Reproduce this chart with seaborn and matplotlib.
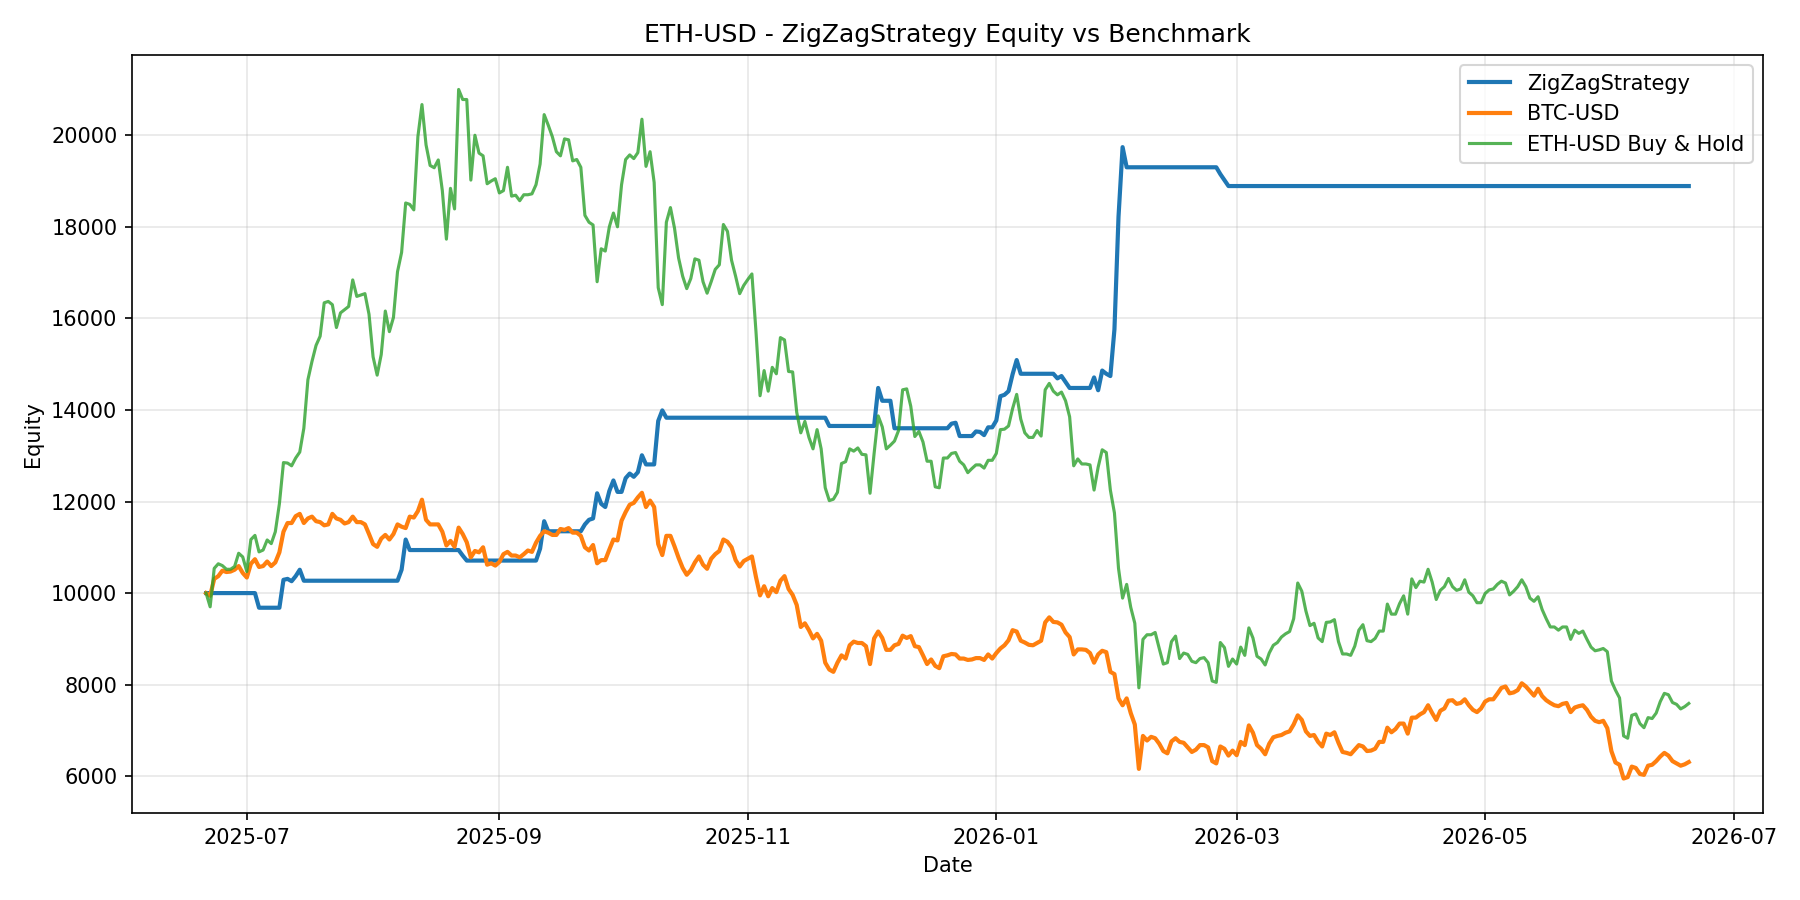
import numpy as np
import pandas as pd
import matplotlib
matplotlib.use("Agg")
import matplotlib.pyplot as plt
import seaborn as sns

start_date = "2025-06-21"
n_days = 365

eth_values = [
    10000, 9700, 10540, 10640, 10600, 10520, 10520, 10580, 10870, 10790,
    10470, 11170, 11260, 10900, 10940, 11160, 11080, 11340, 11950, 12850,
    12840, 12780, 12950, 13080, 13600, 14660, 15060, 15410, 15610, 16340,
    16370, 16300, 15800, 16120, 16190, 16260, 16840, 16480, 16510, 16540,
    16090, 15160, 14760, 15210, 16160, 15710, 16020, 17020, 17440, 18520,
    18490, 18370, 19970, 20670, 19790, 19340, 19290, 19460, 18790, 17730,
    18840, 18390, 21000, 20780, 20780, 19020, 20000, 19610, 19550, 18940,
    19000, 19050, 18740, 18790, 19300, 18670, 18690, 18570, 18700, 18700,
    18720, 18920, 19370, 20450, 20220, 19970, 19640, 19550, 19920, 19900,
    19440, 19470, 19300, 18250, 18100, 18040, 16800, 17520, 17470, 18000,
    18300, 18000, 18920, 19470, 19570, 19490, 19620, 20350, 19320, 19640,
    18970, 16670, 16300, 18100, 18420, 17970, 17320, 16920, 16650, 16870,
    17300, 17270, 16800, 16550, 16800, 17070, 17170, 18050, 17900, 17270,
    16920, 16540, 16720, 16850, 16970, 15710, 14310, 14860, 14410, 14930,
    14790, 15580, 15530, 14840, 14830, 13950, 13500, 13750, 13400, 13150,
    13570, 13150, 12300, 12020, 12050, 12200, 12830, 12870, 13150, 13100,
    13170, 13030, 13020, 12180, 13050, 13870, 13630, 13150, 13230, 13320,
    13550, 14440, 14460, 14080, 13420, 13530, 13300, 12880, 12880, 12320,
    12300, 12950, 12950, 13050, 13070, 12880, 12800, 12630, 12720, 12800,
    12800, 12730, 12900, 12900, 13050, 13570, 13580, 13650, 14030, 14340,
    13800, 13500, 13400, 13400, 13550, 13430, 14440, 14580, 14410, 14330,
    14390, 14200, 13850, 12780, 12930, 12820, 12820, 12800, 12250, 12750,
    13130, 13070, 12250, 11750, 10540, 9890, 10190, 9690, 9340, 7930,
    8990, 9090, 9090, 9140, 8790, 8450, 8480, 8940, 9060, 8570,
    8690, 8660, 8510, 8480, 8570, 8590, 8480, 8080, 8050, 8920,
    8810, 8400, 8560, 8450, 8820, 8640, 9240, 9020, 8620, 8560,
    8430, 8690, 8860, 8920, 9040, 9110, 9160, 9440, 10220, 10040,
    9610, 9290, 9340, 9020, 8940, 9360, 9370, 9420, 8940, 8670,
    8670, 8640, 8840, 9190, 9310, 8960, 8940, 9010, 9170, 9170,
    9760, 9540, 9540, 9770, 9940, 9540, 10310, 10120, 10260, 10240,
    10520, 10240, 9860, 10060, 10140, 10320, 10140, 10060, 10090, 10290,
    10020, 9940, 9790, 9790, 9990, 10070, 10090, 10190, 10260, 10220,
    9960, 10040, 10140, 10290, 10140, 9890, 9820, 9920, 9640, 9440,
    9260, 9260, 9190, 9260, 9260, 8990, 9190, 9120, 9170, 8990,
    8820, 8740, 8760, 8790, 8720, 8080, 7880, 7710, 6880, 6830,
    7330, 7360, 7150, 7060, 7280, 7260, 7380, 7630, 7810, 7780,
    7610, 7570, 7470, 7520, 7590,
]

btc_values = [
    10000, 9940, 10310, 10370, 10490, 10460, 10470, 10510, 10590, 10440,
    10340, 10640, 10740, 10570, 10590, 10690, 10590, 10670, 10890, 11340,
    11530, 11530, 11680, 11730, 11530, 11630, 11670, 11570, 11550, 11480,
    11500, 11730, 11630, 11600, 11520, 11550, 11670, 11550, 11550, 11500,
    11290, 11070, 11010, 11190, 11270, 11170, 11290, 11500, 11450, 11420,
    11670, 11650, 11790, 12040, 11600, 11500, 11500, 11500, 11340, 11040,
    11140, 11010, 11430, 11290, 11110, 10780, 10920, 10890, 11000, 10620,
    10650, 10600, 10680, 10850, 10900, 10820, 10820, 10780, 10850, 10930,
    10900, 11100, 11250, 11350, 11320, 11270, 11270, 11400, 11380, 11420,
    11320, 11320, 11250, 11000, 10930, 11050, 10650, 10720, 10720, 10950,
    11170, 11150, 11580, 11770, 11930, 11970, 12090, 12190, 11880, 12020,
    11880, 11070, 10830, 11250, 11250, 11020, 10770, 10550, 10400, 10500,
    10670, 10800, 10620, 10530, 10750, 10850, 10920, 11170, 11120, 11000,
    10720, 10580, 10700, 10750, 10800, 10350, 9950, 10150, 9930, 10110,
    10020, 10270, 10370, 10090, 9960, 9740, 9260, 9340, 9190, 9010,
    9110, 8960, 8480, 8330, 8280, 8480, 8640, 8570, 8860, 8940,
    8910, 8910, 8840, 8450, 9010, 9160, 9020, 8760, 8760, 8860,
    8890, 9070, 9020, 9060, 8840, 8820, 8640, 8450, 8550, 8410,
    8360, 8620, 8640, 8670, 8660, 8570, 8570, 8540, 8550, 8580,
    8580, 8540, 8660, 8570, 8690, 8790, 8860, 8970, 9190, 9160,
    8960, 8920, 8870, 8860, 8910, 8960, 9360, 9470, 9370, 9360,
    9310, 9140, 9040, 8660, 8770, 8770, 8760, 8690, 8480, 8660,
    8740, 8710, 8280, 8230, 7700, 7550, 7700, 7380, 7130, 6160,
    6880, 6780, 6860, 6830, 6710, 6550, 6500, 6760, 6830, 6750,
    6730, 6630, 6530, 6580, 6680, 6680, 6630, 6330, 6280, 6650,
    6600, 6450, 6560, 6460, 6750, 6680, 7110, 6950, 6680, 6600,
    6480, 6710, 6850, 6880, 6900, 6950, 6980, 7130, 7330, 7230,
    6980, 6880, 6900, 6750, 6650, 6930, 6900, 6960, 6730, 6530,
    6510, 6480, 6580, 6680, 6650, 6550, 6560, 6600, 6750, 6750,
    7060, 6960, 7030, 7150, 7150, 6930, 7280, 7280, 7350, 7400,
    7550, 7380, 7230, 7430, 7480, 7650, 7660, 7580, 7600, 7680,
    7550, 7450, 7400, 7480, 7630, 7680, 7680, 7800, 7930, 7960,
    7810, 7830, 7880, 8030, 7960, 7860, 7760, 7910, 7750, 7660,
    7600, 7550, 7530, 7580, 7600, 7400, 7500, 7530, 7550, 7450,
    7300, 7210, 7180, 7210, 7050, 6550, 6300, 6250, 5950, 5980,
    6210, 6180, 6050, 6030, 6230, 6250, 6330, 6430, 6510, 6450,
    6330, 6280, 6230, 6260, 6310,
]

# Strategy equity: values at the days where the curve changes (flat in between)
strategy_days = [
    0, 12, 13, 18, 19, 20, 21, 22, 23, 24, 47, 48, 49, 50, 62, 63, 64, 81,
    82, 83, 84, 92, 93, 94, 95, 96, 97, 98, 99, 100, 101, 102, 103, 104,
    105, 106, 107, 108, 110, 111, 112, 113, 152, 153, 164, 165, 166, 168,
    169, 182, 183, 184, 185, 188, 189, 190, 191, 192, 193, 194, 195, 196,
    197, 198, 199, 200, 208, 209, 210, 211, 212, 217, 218, 219, 220, 221,
    222, 223, 224, 225, 226, 248, 249, 250, 251, 364,
]
strategy_values = [
    10000, 10000, 9680, 9680, 10290, 10310, 10260, 10370, 10510, 10270,
    10270, 10510, 11170, 10940, 10940, 10820, 10710, 10710, 10970, 11570,
    11350, 11350, 11500, 11600, 11630, 12180, 11950, 11880, 12230, 12460,
    12210, 12210, 12510, 12610, 12540, 12640, 13010, 12810, 12810, 13760,
    13990, 13830, 13830, 13650, 13650, 14480, 14200, 14200, 13600, 13600,
    13700, 13720, 13430, 13430, 13530, 13520, 13450, 13620, 13620, 13770,
    14300, 14330, 14410, 14780, 15090, 14790, 14790, 14690, 14740, 14610,
    14480, 14480, 14710, 14430, 14860, 14790, 14740, 15760, 18220, 19740,
    19300, 19300, 19150, 19020, 18890, 18890,
]

title = "ETH-USD - ZigZagStrategy Equity vs Benchmark"
labels = ["ZigZagStrategy", "BTC-USD", "ETH-USD Buy & Hold"]

dates = pd.date_range(start_date, periods=n_days, freq="D")
strat_dates = pd.Timestamp(start_date) + pd.to_timedelta(strategy_days, unit="D")

df_strat = pd.DataFrame({"Date": strat_dates, "Equity": strategy_values})
df_btc = pd.DataFrame({"Date": dates, "Equity": btc_values})
df_eth = pd.DataFrame({"Date": dates, "Equity": eth_values})

fig, ax = plt.subplots(figsize=(12, 6), dpi=150)
sns.lineplot(data=df_strat, x="Date", y="Equity", ax=ax, color="#1f77b4",
             linewidth=2, label=labels[0])
sns.lineplot(data=df_btc, x="Date", y="Equity", ax=ax, color="#ff7f0e",
             linewidth=2, label=labels[1])
sns.lineplot(data=df_eth, x="Date", y="Equity", ax=ax, color="#2ca02c",
             linewidth=1.5, alpha=0.8, label=labels[2])

ax.set_title(title)
ax.set_xlabel("Date")
ax.set_ylabel("Equity")
ax.grid(True, alpha=0.3)
ax.legend(loc="upper right")

fig.subplots_adjust(left=0.0733, right=0.9794, top=0.9389, bottom=0.0967)
fig.savefig("out.png", dpi=150)
